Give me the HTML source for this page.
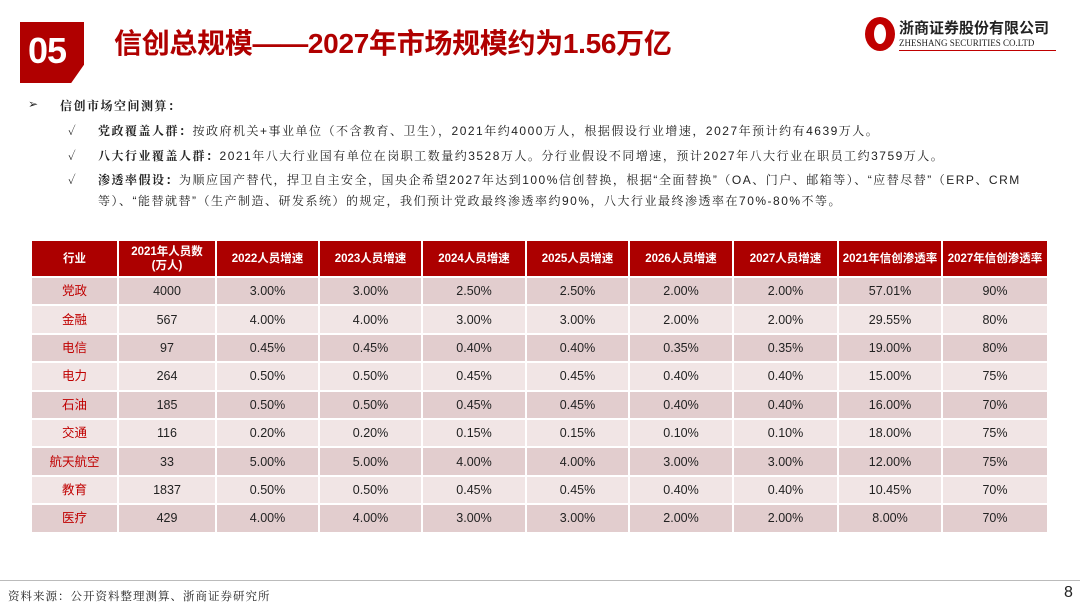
<!DOCTYPE html>
<html><head><meta charset="utf-8"><style>
*{margin:0;padding:0;box-sizing:border-box}
body{width:1080px;height:607px;background:#fff;position:relative;overflow:hidden;font-family:"Liberation Sans","Noto Sans CJK SC",sans-serif;color:#222}
.abs{position:absolute}
.badge{left:20px;top:22px;width:64px;height:61px;background:#b00000;clip-path:polygon(0 0,100% 0,100% 70%,80% 100%,0 100%);color:#fff;font-weight:bold;font-size:36px;line-height:58px;padding-left:8px;letter-spacing:-1px}
.title{left:114px;top:22px;font-size:28px;font-weight:bold;color:#b00000;white-space:nowrap;letter-spacing:-0.3px}
.txt{font-size:12px;white-space:nowrap;color:#222;font-family:"Liberation Sans","Noto Serif CJK SC",serif;letter-spacing:1.5px}
.txt b{font-weight:bold}
table{position:absolute;left:30px;top:239px;border-collapse:separate;border-spacing:2px;font-size:12.5px}
td{text-align:center;height:26.4px;padding:0;line-height:20px}
tr.h td{background:#ac0000;color:#fff;font-weight:bold;height:35px;font-size:11.5px;line-height:14px}
tr.a td{background:#e2cdce}
tr.b td{background:#f1e5e5}
td.n{color:#c00000}
</style></head><body>
<div class="abs badge">05</div>
<div class="abs title">信创总规模——2027年市场规模约为1.56万亿</div>
<div class="abs" style="left:865px;top:17px;width:30px;height:34px;border-radius:50%;background:#c00000"></div>
<div class="abs" style="left:874px;top:24px;width:12px;height:20px;border-radius:50%;background:#fff"></div>
<div class="abs" style="left:899px;top:17px;font-size:15px;font-weight:bold;color:#222;white-space:nowrap">浙商证券股份有限公司</div>
<div class="abs" style="left:899px;top:38px;font-size:9px;color:#222;white-space:nowrap;font-family:'Liberation Serif',serif">ZHESHANG SECURITIES CO.LTD</div>
<div class="abs" style="left:899px;top:50px;width:157px;height:1px;background:#c00000"></div>

<div class="abs txt" style="left:28px;top:97px">➢</div>
<div class="abs txt" style="left:60px;top:97px"><b>信创市场空间测算：</b></div>
<div class="abs txt" style="left:68px;top:122px">✓</div>
<div class="abs txt" style="left:98px;top:122px"><b>党政覆盖人群：</b>按政府机关+事业单位（不含教育、卫生），2021年约4000万人，根据假设行业增速，2027年预计约有4639万人。</div>
<div class="abs txt" style="left:68px;top:147px">✓</div>
<div class="abs txt" style="left:98px;top:147px"><b>八大行业覆盖人群：</b>2021年八大行业国有单位在岗职工数量约3528万人。分行业假设不同增速，预计2027年八大行业在职员工约3759万人。</div>
<div class="abs txt" style="left:68px;top:171px">✓</div>
<div class="abs txt" style="left:98px;top:171px"><b>渗透率假设：</b>为顺应国产替代，捍卫自主安全，国央企希望2027年达到100%信创替换，根据“全面替换”（OA、门户、邮箱等）、“应替尽替”（ERP、CRM</div>
<div class="abs txt" style="left:98px;top:192px">等）、“能替就替”（生产制造、研发系统）的规定，我们预计党政最终渗透率约90%，八大行业最终渗透率在70%-80%不等。</div>

<table>
<tr class="h"><td style="width:85px">行业</td><td style="width:96px">2021年人员数<br>(万人)</td><td style="width:101px">2022人员增速</td><td style="width:101px">2023人员增速</td><td style="width:102px">2024人员增速</td><td style="width:101px">2025人员增速</td><td style="width:102px">2026人员增速</td><td style="width:103px">2027人员增速</td><td style="width:102px">2021年信创渗透率</td><td style="width:104px">2027年信创渗透率</td></tr>
<tr class="a"><td class="n">党政</td><td>4000</td><td>3.00%</td><td>3.00%</td><td>2.50%</td><td>2.50%</td><td>2.00%</td><td>2.00%</td><td>57.01%</td><td>90%</td></tr>
<tr class="b"><td class="n">金融</td><td>567</td><td>4.00%</td><td>4.00%</td><td>3.00%</td><td>3.00%</td><td>2.00%</td><td>2.00%</td><td>29.55%</td><td>80%</td></tr>
<tr class="a"><td class="n">电信</td><td>97</td><td>0.45%</td><td>0.45%</td><td>0.40%</td><td>0.40%</td><td>0.35%</td><td>0.35%</td><td>19.00%</td><td>80%</td></tr>
<tr class="b"><td class="n">电力</td><td>264</td><td>0.50%</td><td>0.50%</td><td>0.45%</td><td>0.45%</td><td>0.40%</td><td>0.40%</td><td>15.00%</td><td>75%</td></tr>
<tr class="a"><td class="n">石油</td><td>185</td><td>0.50%</td><td>0.50%</td><td>0.45%</td><td>0.45%</td><td>0.40%</td><td>0.40%</td><td>16.00%</td><td>70%</td></tr>
<tr class="b"><td class="n">交通</td><td>116</td><td>0.20%</td><td>0.20%</td><td>0.15%</td><td>0.15%</td><td>0.10%</td><td>0.10%</td><td>18.00%</td><td>75%</td></tr>
<tr class="a"><td class="n">航天航空</td><td>33</td><td>5.00%</td><td>5.00%</td><td>4.00%</td><td>4.00%</td><td>3.00%</td><td>3.00%</td><td>12.00%</td><td>75%</td></tr>
<tr class="b"><td class="n">教育</td><td>1837</td><td>0.50%</td><td>0.50%</td><td>0.45%</td><td>0.45%</td><td>0.40%</td><td>0.40%</td><td>10.45%</td><td>70%</td></tr>
<tr class="a"><td class="n">医疗</td><td>429</td><td>4.00%</td><td>4.00%</td><td>3.00%</td><td>3.00%</td><td>2.00%</td><td>2.00%</td><td>8.00%</td><td>70%</td></tr>
</table>

<div class="abs" style="left:0;top:580px;width:1080px;height:1px;background:#bbb"></div>
<div class="abs txt" style="left:8px;top:588px;font-size:11.5px;letter-spacing:1px">资料来源：公开资料整理测算、浙商证券研究所</div>
<div class="abs" style="left:1064px;top:584px;font-size:16px;color:#222">8</div>
</body></html>
